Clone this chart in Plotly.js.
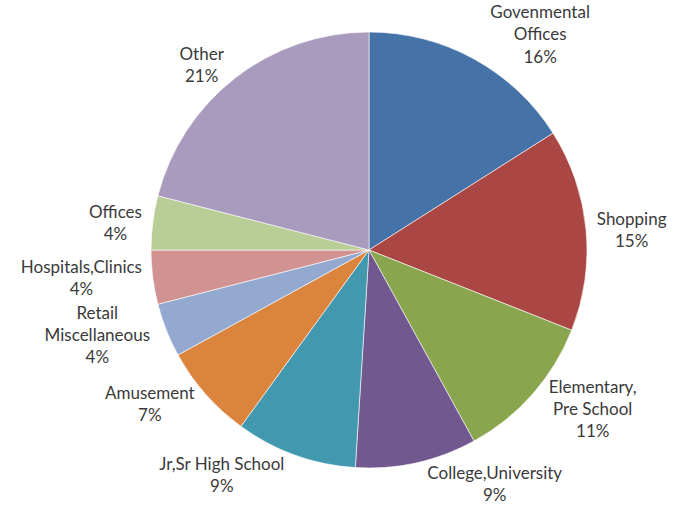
<!DOCTYPE html>
<html>
<head>
<meta charset="utf-8">
<script src="https://cdn.plot.ly/plotly-3.0.1.min.js"></script>
<style>html,body{margin:0;padding:0;background:#fff;}#chart{width:673px;height:521px;}</style>
</head>
<body>
<div id="chart"></div>
<script>
const categories = [
  "Govenmental<br>Offices",
  "Shopping",
  "Elementary,<br>Pre School",
  "College,University",
  "Jr,Sr High School",
  "Amusement",
  "Retail<br>Miscellaneous",
  "Hospitals,Clinics",
  "Offices",
  "Other"
];
const shares = [16, 15, 11, 9, 9, 7, 4, 4, 4, 21];
const sliceColors = [
  "#4572A7", "#AA4643", "#89A54E", "#71588F", "#4198AF",
  "#DB843D", "#93A9CF", "#D19392", "#B9CD96", "#A99BBD"
];

const labelFont = { family: "Lato, 'Open Sans', sans-serif", size: 17, color: "#3a3a3a" };

const data = [{
  type: "pie",
  labels: categories,
  values: shares,
  sort: false,
  direction: "clockwise",
  rotation: 0,
  marker: { colors: sliceColors, line: { color: "rgba(255,255,255,0.6)", width: 1 } },
  textposition: "outside",
  texttemplate: "%{label}<br>%{percent:.0%}",
  textfont: labelFont,
  outsidetextfont: labelFont,
  automargin: false,
  hoverinfo: "label+percent",
  showlegend: false,
  domain: { x: [0.2244, 0.8722], y: [0.1017, 0.9386] }
}];

const layout = {
  width: 673,
  height: 521,
  margin: { l: 0, r: 0, t: 0, b: 0 },
  paper_bgcolor: "#ffffff",
  showlegend: false
};

Plotly.newPlot("chart", data, layout, { displayModeBar: false, staticPlot: true });
</script>
</body>
</html>
